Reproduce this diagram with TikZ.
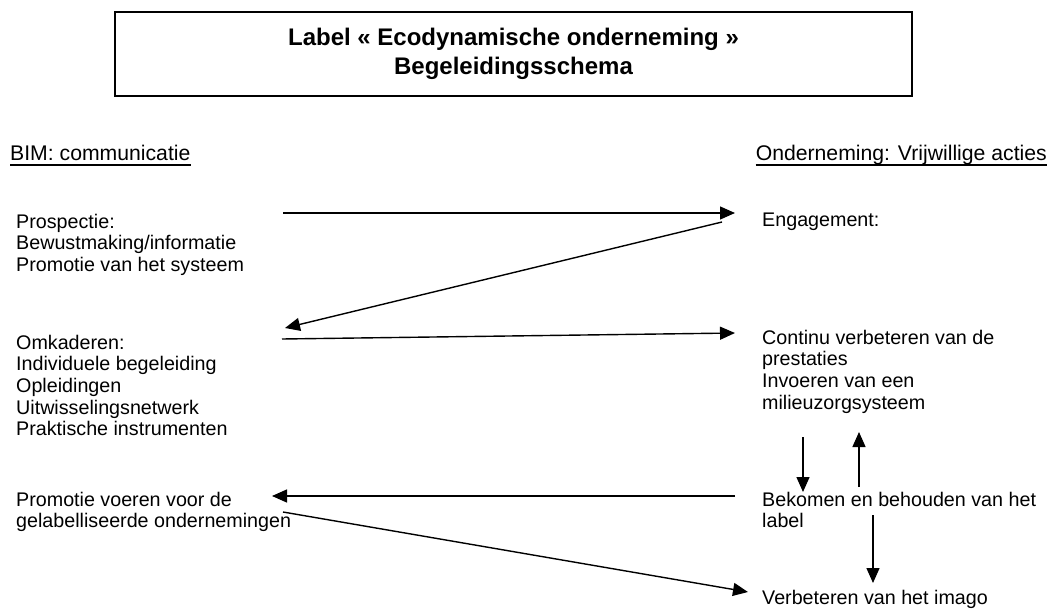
\documentclass[tikz,border=0pt]{standalone}
\usepackage{fontspec}
\setmainfont{Liberation Sans}
\usetikzlibrary{arrows.meta}
\begin{document}
\begin{tikzpicture}[x=1pt,y=-1pt,
  txt/.style={inner sep=0pt, anchor=base west, align=left, font=\fontsize{19.7}{21.7}\selectfont},
  hdr/.style={inner sep=0pt, anchor=base west, font=\fontsize{21.2}{23}\selectfont},
  ttl/.style={draw, line width=1.5pt, minimum width=797pt, minimum height=84pt, inner sep=0pt, align=center, font=\bfseries\fontsize{24}{29}\selectfont},
  arr/.style={line width=1.4pt, -{Triangle[length=15pt,width=13pt]}},
  uline/.style={line width=1.2pt}]
\useasboundingbox (0,0) rectangle (1050,610);

% title
\node[ttl] (title) at (513.5,54) {Label « Ecodynamische onderneming »\\Begeleidingsschema};

% headers
\node[hdr] (bim) at (10,160) {BIM: communicatie};
\node[hdr, anchor=base east] (ond) at (1047,160) {Onderneming: Vrijwillige acties};
\draw[uline] ([yshift=-5pt]bim.base west) -- ([yshift=-5pt]bim.base east);
\draw[uline] ([yshift=-5pt]ond.base west) -- ([yshift=-5pt]ond.base east);

% left column (anchored at the baseline of the last line)
\node[txt] (prosp) at (16,271.4) {Prospectie:\\Bewustmaking/informatie\\Promotie van het systeem};
\node[txt] (omk) at (16,435.8) {Omkaderen:\\Individuele begeleiding\\Opleidingen\\Uitwisselingsnetwerk\\Praktische instrumenten};
\node[txt] (prom) at (16,527.7) {Promotie voeren voor de\\gelabelliseerde ondernemingen};

% right column
\node[txt] (eng) at (762,226) {Engagement:};
\node[txt] (cont) at (762,409.1) {Continu verbeteren van de\\prestaties\\Invoeren van een\\milieuzorgsysteem};
\node[txt] (bek) at (762,527.7) {Bekomen en behouden van het\\label};
\node[txt] (imago) at (762,604) {Verbeteren van het imago};

% connector ends
\coordinate (p1) at (283,213);
\coordinate (e1) at (735,213);
\coordinate (e2) at (722,222);
\coordinate (o2) at (285,328);
\coordinate (o3) at (282,339);
\coordinate (c3) at (735,333);
\coordinate (b4) at (735,496);
\coordinate (pr4) at (272,496);
\coordinate (pr5) at (283,512);
\coordinate (im5) at (748,592);
\coordinate (c6) at (803,437);
\coordinate (b6) at (803,492);
\coordinate (b7) at (859,487);
\coordinate (c7) at (859,432);
\coordinate (b8) at (873,515);
\coordinate (im8) at (873,583);

\draw[arr] (p1) -- (e1);
\draw[arr] (e2) -- (o2);
\draw[arr] (o3) -- (c3);
\draw[arr] (b4) -- (pr4);
\draw[arr] (pr5) -- (im5);
\draw[arr] (c6) -- (b6);
\draw[arr] (b7) -- (c7);
\draw[arr] (b8) -- (im8);
\end{tikzpicture}
\end{document}
